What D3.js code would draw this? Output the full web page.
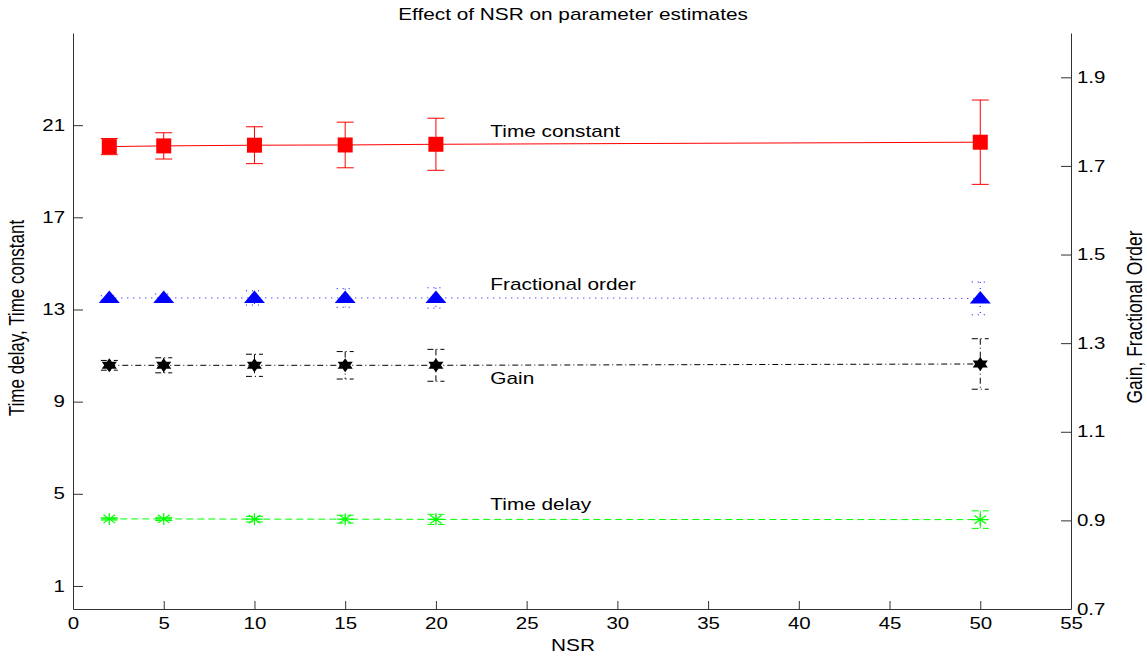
<!DOCTYPE html>
<html>
<head>
<meta charset="utf-8">
<script src="https://cdn.jsdelivr.net/npm/d3@7"></script>
<style>
  body { margin: 0; background: #fff; }
  svg { display: block; font-family: "Liberation Sans", Arial, sans-serif; }
  .axis path, .axis line { stroke: #333; }
  .axis text { font-size: 16px; fill: #000; font-family: "Liberation Sans", Arial, sans-serif; }
</style>
</head>
<body>
<svg id="chart"></svg>
<script>
var nsr = [2, 5, 10, 15, 20, 50];

// left axis series
var timeConstant    = [20.07, 20.10, 20.13, 20.14, 20.17, 20.26];
var timeConstantErr = [0.35, 0.57, 0.80, 0.99, 1.13, 1.83];
var timeDelay       = [3.91, 3.91, 3.90, 3.90, 3.89, 3.88];
var timeDelayErr    = [0.05, 0.07, 0.12, 0.17, 0.22, 0.38];

// right axis series
var fractionalOrder    = [1.402, 1.402, 1.402, 1.402, 1.402, 1.401];
var fractionalOrderErr = [0.005, 0.009, 0.016, 0.021, 0.023, 0.037];
var gain    = [1.250, 1.250, 1.250, 1.250, 1.250, 1.253];
var gainErr = [0.011, 0.017, 0.025, 0.031, 0.036, 0.057];

var xTicks = [0, 5, 10, 15, 20, 25, 30, 35, 40, 45, 50, 55];
var leftTicks = [1, 5, 9, 13, 17, 21];
var rightTicks = [0.7, 0.9, 1.1, 1.3, 1.5, 1.7, 1.9];

var width = 1147, height = 658;
var stretch = 1.28; // glyphs in the reference are wider than tall

var svg = d3.select("#chart").attr("width", width).attr("height", height);

var x = d3.scaleLinear().domain([0, 55]).range([73, 1071]);
var yLeft = d3.scaleLinear().domain([0, 25]).range([609, 33]);
var yRight = d3.scaleLinear().domain([0.7, 2.0]).range([609, 33]);

// axes
svg.append("g").attr("class", "axis")
  .attr("transform", "translate(0,609)")
  .call(d3.axisBottom(x).tickValues(xTicks).tickFormat(d3.format("d"))
    .tickSizeInner(-8).tickSizeOuter(0).tickPadding(9));

svg.append("g").attr("class", "axis")
  .attr("transform", "translate(73,0)")
  .call(d3.axisLeft(yLeft).tickValues(leftTicks).tickFormat(d3.format("d"))
    .tickSizeInner(-10).tickSizeOuter(0).tickPadding(8));

svg.append("g").attr("class", "axis")
  .attr("transform", "translate(1071,0)")
  .call(d3.axisRight(yRight).tickValues(rightTicks).tickFormat(d3.format(".1f"))
    .tickSizeInner(-10).tickSizeOuter(0).tickPadding(6));

svg.selectAll(".axis text").each(function() {
  var t = d3.select(this);
  var tx = +t.attr("x") || 0;
  t.attr("x", tx / stretch).attr("transform", "scale(" + stretch + ",1)");
});

// marker shapes
function squareMarker(g, color) {
  g.append("rect").attr("x", -7.5).attr("y", -7.5).attr("width", 15).attr("height", 15)
    .attr("fill", color);
}
function triangleMarker(g, color) {
  g.append("path").attr("d", "M0,-7.5L10.5,5L-10.5,5Z").attr("fill", color);
}
function hexagramMarker(g, color) {
  var pts = [];
  for (var k = 0; k < 12; k++) {
    var r = k % 2 === 0 ? 7 : 7 / Math.sqrt(3);
    var a = -Math.PI / 2 + k * Math.PI / 6;
    pts.push([Math.cos(a) * r * 1.25, Math.sin(a) * r]);
  }
  g.append("path").attr("d", "M" + pts.join("L") + "Z").attr("fill", color);
}
function asteriskMarker(g, color) {
  var rx = 8.3, ry = 6;
  var d = "M" + (-rx) + ",0L" + rx + ",0M0," + (-ry) + "L0," + ry +
    "M" + (-rx * 0.7) + "," + (-ry * 0.7) + "L" + (rx * 0.7) + "," + (ry * 0.7) +
    "M" + (-rx * 0.7) + "," + (ry * 0.7) + "L" + (rx * 0.7) + "," + (-ry * 0.7);
  g.append("path").attr("d", d).attr("stroke", color).attr("stroke-width", 1.2).attr("fill", "none");
}

var series = [
  { name: "Time constant", values: timeConstant, err: timeConstantErr, y: yLeft,
    color: "#ff0000", dash: null, marker: squareMarker, labelY: 20.75 },
  { name: "Fractional order", values: fractionalOrder, err: fractionalOrderErr, y: yRight,
    color: "#0000ff", dash: "1,5", marker: triangleMarker, labelY: 1.433 },
  { name: "Gain", values: gain, err: gainErr, y: yRight,
    color: "#000000", dash: "6,3,1,3", marker: hexagramMarker, labelY: 1.221 },
  { name: "Time delay", values: timeDelay, err: timeDelayErr, y: yLeft,
    color: "#00ff00", dash: "7,4", marker: asteriskMarker, labelY: 4.57 }
];

series.forEach(function(s) {
  var pts = nsr.map(function(n, i) { return { x: n, v: s.values[i], e: s.err[i] }; });
  var g = svg.append("g");

  var line = d3.line().x(function(d) { return x(d.x); }).y(function(d) { return s.y(d.v); });
  g.append("path").datum(pts).attr("d", line)
    .attr("fill", "none").attr("stroke", s.color).attr("stroke-width", 1)
    .attr("stroke-dasharray", s.dash);

  // error bars
  g.selectAll(".eb").data(pts).enter().append("path")
    .attr("d", function(d) {
      var cx = x(d.x), top = s.y(d.v + d.e), bot = s.y(d.v - d.e);
      return "M" + cx + "," + top + "L" + cx + "," + bot +
        "M" + (cx - 8.5) + "," + top + "L" + (cx + 8.5) + "," + top +
        "M" + (cx - 8.5) + "," + bot + "L" + (cx + 8.5) + "," + bot;
    })
    .attr("fill", "none").attr("stroke", s.color).attr("stroke-width", 1)
    .attr("stroke-dasharray", s.dash);

  g.selectAll(".mk").data(pts).enter().append("g")
    .attr("transform", function(d) { return "translate(" + x(d.x) + "," + s.y(d.v) + ")"; })
    .each(function() { s.marker(d3.select(this), s.color); });

  g.append("text")
    .attr("transform", "translate(" + x(23) + "," + (s.y(s.labelY) + 6) + ") scale(1.3,1)")
    .attr("font-size", 16).attr("fill", "#000").text(s.name);
});

// titles
svg.append("text")
  .attr("transform", "translate(573,20) scale(1.3,1)")
  .attr("text-anchor", "middle").attr("font-size", 16).text("Effect of NSR on parameter estimates");

svg.append("text")
  .attr("transform", "translate(573,651) scale(1.3,1)")
  .attr("text-anchor", "middle").attr("font-size", 16).text("NSR");

svg.append("text")
  .attr("transform", "translate(24,318) scale(1.3,1) rotate(-90)")
  .attr("text-anchor", "middle").attr("font-size", 17).text("Time delay, Time constant");

svg.append("text")
  .attr("transform", "translate(1142,317) scale(1.3,1) rotate(-90)")
  .attr("text-anchor", "middle").attr("font-size", 17.5).text("Gain, Fractional Order");
</script>
</body>
</html>
